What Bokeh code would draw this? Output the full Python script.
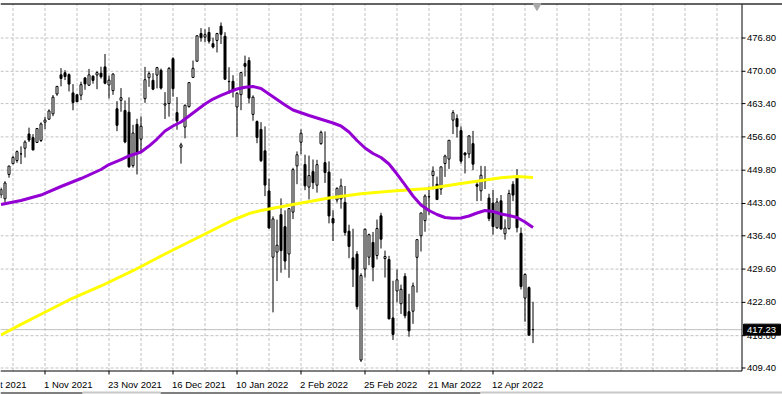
from bokeh.plotting import figure
from bokeh.models import Range1d
from bokeh.core.properties import value
from bokeh.embed import file_html
from bokeh.resources import INLINE

# ---------------- data ----------------
# bar index: 0 = 1 Nov 2021, one step per trading day
bar_index = list(range(-11, 123))

opens = [444.75, 443.97, 448.92, 451.13, 451.77, 453.13, 454.28, 457.20, 456.45, 455.46, 455.87,
         459.60, 460.22, 461.30, 465.36, 469.28, 469.70, 469.32, 465.58, 465.21, 465.12,
         468.64, 467.15, 469.00, 469.24, 469.61, 470.89, 467.22, 466.06, 462.34, 464.07,
         462.00, 461.64, 450.73, 459.17, 456.13, 464.41, 468.70, 468.15, 469.23, 470.19,
         463.09, 463.42, 472.57, 461.55, 454.48, 458.61, 462.79, 468.75, 472.06, 477.72,
         476.98, 477.93, 475.64, 476.30, 479.22, 477.16, 467.89, 467.95, 462.70, 465.23,
         471.59, 472.19, 461.19, 459.74, 458.13, 453.75, 445.56, 432.03, 433.06, 440.72,
         438.26, 432.68, 441.24, 450.68, 455.50, 450.95, 446.35, 449.51, 446.73, 455.22,
         451.34, 449.41, 439.92, 443.73, 443.93, 443.22, 437.33, 431.89, 432.66, 411.02,
         429.61, 432.03, 435.04, 432.37, 440.47, 431.75, 431.55, 419.62, 425.14, 422.52,
         428.12, 420.89, 420.99, 432.00, 436.40, 439.50, 444.34, 448.70, 446.91, 445.94,
         451.16, 452.06, 460.02, 460.34, 457.89, 453.31, 453.13, 455.22, 446.89, 445.59,
         447.97, 444.11, 443.08, 438.03, 443.55, 436.81, 437.86, 446.92, 448.54, 436.91,
         423.67, 425.83, 417.24]
highs = [446.26, 447.55, 450.71, 452.73, 453.83, 454.67, 455.90, 458.49, 457.16, 458.40, 459.56,
         460.70, 462.23, 465.15, 467.00, 470.65, 470.23, 469.57, 467.38, 465.29, 467.86,
         468.81, 470.49, 469.19, 470.01, 470.94, 473.54, 469.10, 469.57, 463.90, 466.56,
         464.03, 464.67, 459.07, 460.30, 460.79, 470.90, 470.00, 469.63, 470.90, 470.56,
         465.74, 470.86, 472.87, 464.74, 455.40, 463.21, 467.81, 472.19, 477.31, 478.81,
         478.56, 479.00, 476.86, 477.85, 479.98, 477.98, 470.82, 469.20, 465.74, 469.85,
         473.20, 472.88, 465.09, 459.96, 459.61, 458.74, 448.06, 440.38, 439.72, 444.04,
         441.59, 442.00, 450.28, 453.63, 458.12, 452.97, 452.78, 451.99, 451.92, 457.88,
         457.71, 451.61, 441.60, 446.28, 448.06, 446.57, 438.66, 437.84, 433.26, 428.76,
         437.84, 436.84, 437.17, 439.72, 441.11, 433.37, 432.30, 427.21, 429.51, 426.43,
         428.77, 424.55, 426.84, 435.68, 441.07, 444.86, 446.46, 450.58, 448.49, 450.50,
         452.98, 455.91, 462.07, 461.20, 458.76, 453.46, 456.91, 457.83, 447.58, 450.69,
         450.63, 445.00, 445.75, 444.11, 444.73, 439.75, 445.80, 447.57, 450.01, 438.08,
         428.69, 426.04, 422.92]
lows = [444.09, 443.27, 448.27, 451.01, 451.31, 451.05, 452.39, 455.56, 453.86, 455.45, 455.56,
        458.20, 460.08, 460.83, 464.99, 466.92, 468.20, 465.88, 462.04, 463.75, 464.11,
        466.23, 467.07, 467.48, 466.34, 468.50, 467.35, 464.45, 465.19, 457.77, 461.73,
        455.30, 450.29, 450.31, 448.92, 453.56, 463.55, 466.83, 466.14, 466.51, 466.27,
        460.25, 460.74, 464.80, 458.06, 451.14, 456.31, 462.58, 468.64, 472.01, 476.06,
        475.92, 475.67, 474.67, 473.85, 475.58, 468.28, 465.43, 464.65, 456.60, 462.05,
        468.94, 463.44, 459.90, 455.31, 451.46, 444.50, 437.95, 420.76, 427.15, 428.86,
        429.45, 427.82, 439.81, 446.94, 453.05, 445.71, 443.83, 445.94, 445.22, 455.00,
        447.20, 438.94, 435.34, 443.18, 441.94, 436.42, 431.82, 425.93, 421.35, 410.64,
        427.86, 430.39, 427.11, 431.57, 433.80, 427.88, 419.36, 415.12, 422.82, 420.44,
        419.53, 415.79, 418.42, 424.80, 433.19, 437.22, 440.68, 445.86, 443.71, 444.76,
        448.43, 450.06, 457.18, 456.47, 451.16, 449.14, 452.26, 449.82, 443.48, 443.53,
        445.94, 439.39, 436.65, 437.84, 437.68, 435.61, 437.68, 443.48, 437.10, 425.44,
        418.84, 416.07, 414.48]
closes = [445.87, 447.19, 450.64, 452.41, 453.59, 453.12, 455.55, 455.96, 453.94, 458.32, 459.25,
          460.04, 461.90, 464.72, 466.91, 468.53, 468.93, 467.38, 463.62, 463.77, 467.27,
          467.43, 469.28, 468.14, 469.73, 468.89, 467.57, 468.19, 469.44, 458.97, 464.60,
          455.56, 450.50, 457.40, 453.42, 458.79, 468.28, 469.52, 466.35, 470.74, 466.57,
          463.36, 470.60, 466.45, 459.87, 454.98, 463.06, 467.69, 470.60, 477.26, 476.87,
          477.48, 476.16, 474.96, 477.71, 477.55, 468.38, 467.94, 466.09, 465.51, 469.75,
          471.02, 464.53, 464.72, 456.49, 451.75, 446.75, 437.98, 439.84, 434.47, 433.38,
          431.24, 441.95, 449.91, 452.95, 457.35, 446.60, 448.70, 447.26, 450.94, 457.54,
          449.32, 440.46, 439.02, 446.10, 446.60, 437.06, 434.23, 429.57, 421.95, 428.30,
          437.75, 436.63, 429.98, 437.89, 435.71, 432.17, 419.43, 416.25, 427.41, 425.48,
          420.07, 417.00, 426.17, 435.62, 441.07, 444.52, 444.39, 449.59, 443.80, 450.49,
          452.69, 455.91, 461.55, 458.70, 451.64, 452.92, 456.80, 451.03, 446.52, 448.77,
          447.57, 439.92, 438.29, 443.31, 437.79, 437.97, 445.04, 444.71, 438.06, 426.04,
          428.51, 416.10, 417.23]

# moving averages
ma_fast_idx = [-11, -6, -1, 4, 9, 14, 16, 19, 21, 24, 26, 28, 30, 32, 34, 36, 38, 40, 42, 44,
               46, 48, 50, 52, 54, 56, 58, 60, 62, 64, 66, 68, 70, 72, 74, 76, 78, 80, 82, 84,
               86, 88, 90, 92, 94, 96, 98, 100, 102, 104, 106, 108, 110, 112, 114, 116, 118,
               120, 122]
ma_fast = [442.79, 443.61, 444.73, 446.47, 448.10, 449.94, 450.96, 451.98, 452.70, 453.52,
           454.74, 456.17, 457.80, 458.83, 459.64, 460.87, 462.09, 463.32, 464.34, 465.06,
           465.77, 466.38, 466.73, 466.89, 466.49, 465.36, 464.24, 463.12, 462.09, 461.54,
           460.97, 460.46, 459.95, 459.44, 458.83, 457.60, 455.86, 454.33, 453.21, 452.39,
           451.06, 449.02, 446.78, 444.53, 442.69, 441.57, 440.75, 440.14, 439.97, 440.03,
           440.44, 441.06, 441.57, 441.36, 440.85, 440.55, 440.14, 439.22, 438.09]
ma_slow_idx = [-11, -6, -1, 6, 14, 22, 30, 39, 47, 51, 54, 62, 71, 79, 87, 96, 104, 114, 118, 122]
ma_slow = [416.14, 418.32, 420.37, 423.29, 426.15, 429.27, 432.68, 436.36, 439.63, 440.95,
           441.57, 442.79, 444.12, 445.00, 445.55, 446.06, 447.08, 448.27, 448.51, 448.31]

price_ticks = [409.40, 416.00, 422.80, 429.60, 436.40, 443.00, 449.80, 456.60, 463.40, 470.00, 476.80]
price_labels = ["409.40", "416.00", "422.80", "429.60", "436.40", "443.00", "449.80", "456.60",
                "463.40", "470.00", "476.80"]
date_tick_idx = [-16, 0, 16, 32, 48, 64, 80, 96, 112]
date_tick_labels = ["8 Oct 2021", "1 Nov 2021", "23 Nov 2021", "16 Dec 2021", "10 Jan 2022",
                    "2 Feb 2022", "25 Feb 2022", "21 Mar 2022", "12 Apr 2022"]
grid_idx = [-8, 0, 8, 16, 24, 32, 40, 48, 56, 64, 72, 80, 88, 96, 104, 112, 120, 128, 136,
            144, 152, 160, 168]
last_price = 417.23

# ---------------- layout (pixels of the 782x394 canvas) ----------------
W, H = 782, 394
X0_PX, BAR_PX = 44.5, 4.0            # pixel of bar 0, pixels per bar
Y_REF_PX, Y_REF_P, Y_SCALE = 37.5, 476.8, 4.896   # pixel of a price, pixels per price unit
RIGHT_PX, BOTTOM_PX, TOP_PX = 741.5, 370.5, 3.5   # chart frame edges
FONT = "Liberation Sans"
FS = "9.5px"


def xd(px):
    return (px - X0_PX) / BAR_PX


def yd(py):
    return Y_REF_P - (py - Y_REF_PX) / Y_SCALE


def ypx(price):
    return Y_REF_PX + (Y_REF_P - price) * Y_SCALE


x_lo, x_hi = xd(0), xd(W)
y_lo, y_hi = yd(H), yd(0)
x_right, y_bottom, y_top = xd(RIGHT_PX), yd(BOTTOM_PX), yd(TOP_PX)

p = figure(width=W, height=H, x_range=Range1d(x_lo, x_hi), y_range=Range1d(y_lo, y_hi),
           x_axis_location=None, y_axis_location=None,
           output_backend="svg", toolbar_location=None,
           min_border=0, outline_line_color=None,
           background_fill_color="white", border_fill_color="white")
p.grid.visible = False

# dashed grid
p.segment(x0=grid_idx, y0=[y_bottom] * len(grid_idx), x1=grid_idx, y1=[y_top] * len(grid_idx),
          line_color="#c0c0c0", line_width=1, line_dash="3 2")
p.segment(x0=[x_lo] * len(price_ticks), y0=price_ticks, x1=[x_right] * len(price_ticks),
          y1=price_ticks, line_color="#c0c0c0", line_width=1, line_dash="3 2")

# current price line
p.segment(x0=[x_lo], y0=[last_price], x1=[x_right], y1=[last_price],
          line_color="#c0c0c0", line_width=1)

# candles
body_top = [max(o, c) for o, c in zip(opens, closes)]
body_bot = [min(o, c) for o, c in zip(opens, closes)]
body_fill = ["white" if c >= o else "black" for o, c in zip(opens, closes)]
p.segment(x0=bar_index, y0=lows, x1=bar_index, y1=highs, line_color="black", line_width=1)
p.vbar(x=bar_index, width=0.5, top=body_top, bottom=body_bot,
       fill_color=body_fill, line_color="black", line_width=1)

# moving averages
p.line(ma_slow_idx, ma_slow, line_color="#ffff00", line_width=3, line_join="round")
p.line(ma_fast_idx, ma_fast, line_color="#9400d3", line_width=3, line_join="round")

# chart frame: right price-scale line, bottom time-scale line, top edge
p.segment(x0=[x_right], y0=[y_bottom], x1=[x_right], y1=[y_top], line_color="black", line_width=1)
p.segment(x0=[x_lo], y0=[y_bottom], x1=[x_right], y1=[y_bottom], line_color="black", line_width=1)
p.segment(x0=[x_lo], y0=[y_top], x1=[x_hi], y1=[y_top], line_color="#303030", line_width=1.5)

# price scale ticks and labels
p.segment(x0=[x_right] * len(price_ticks), y0=price_ticks,
          x1=[xd(RIGHT_PX + 3.5)] * len(price_ticks), y1=price_ticks,
          line_color="black", line_width=1)
p.text(x=[xd(746.5)] * len(price_ticks), y=price_ticks, text=price_labels,
       text_font=value(FONT), text_font_size=value(FS), text_color="black",
       text_align="left", text_baseline="middle")

# time scale ticks and labels (left aligned at the tick)
p.segment(x0=date_tick_idx, y0=[y_bottom] * len(date_tick_idx),
          x1=date_tick_idx, y1=[yd(BOTTOM_PX + 3.5)] * len(date_tick_idx),
          line_color="black", line_width=1)
p.text(x=date_tick_idx, y=[yd(383.5)] * len(date_tick_idx), text=date_tick_labels,
       x_offset=-1, text_font=value(FONT), text_font_size=value(FS), text_color="black",
       text_align="left", text_baseline="alphabetic")

# chart-shift marker just after the last bar
p.scatter(x=[bar_index[-1] + 1], y=[yd(5.5)], marker="inverted_triangle", size=8,
          fill_color="#a8a8a8", line_color="#a8a8a8")

# current price tag on the price scale (covers the nearby scale label)
tag_py = ypx(last_price)
p.quad(left=[xd(743)], right=[xd(780)], top=[yd(tag_py - 5.5)], bottom=[yd(tag_py + 5.5)],
       fill_color="black", line_color="black", line_width=1)
p.text(x=[xd(746.5)], y=[last_price], text=[f"{last_price:.2f}"],
       text_font=value(FONT), text_font_size=value(FS), text_color="white",
       text_align="left", text_baseline="middle")

# window bottom edge
p.segment(x0=[x_lo, xd(160)], y0=[yd(392.5)] * 2, x1=[xd(82), xd(480)], y1=[yd(392.5)] * 2,
          line_color="black", line_width=1)
p.segment(x0=[xd(82), xd(480)], y0=[yd(392)] * 2, x1=[xd(160), x_hi], y1=[yd(392)] * 2,
          line_color="#c8c8c8", line_width=2)

open("out.html", "w").write(file_html(p, INLINE))
